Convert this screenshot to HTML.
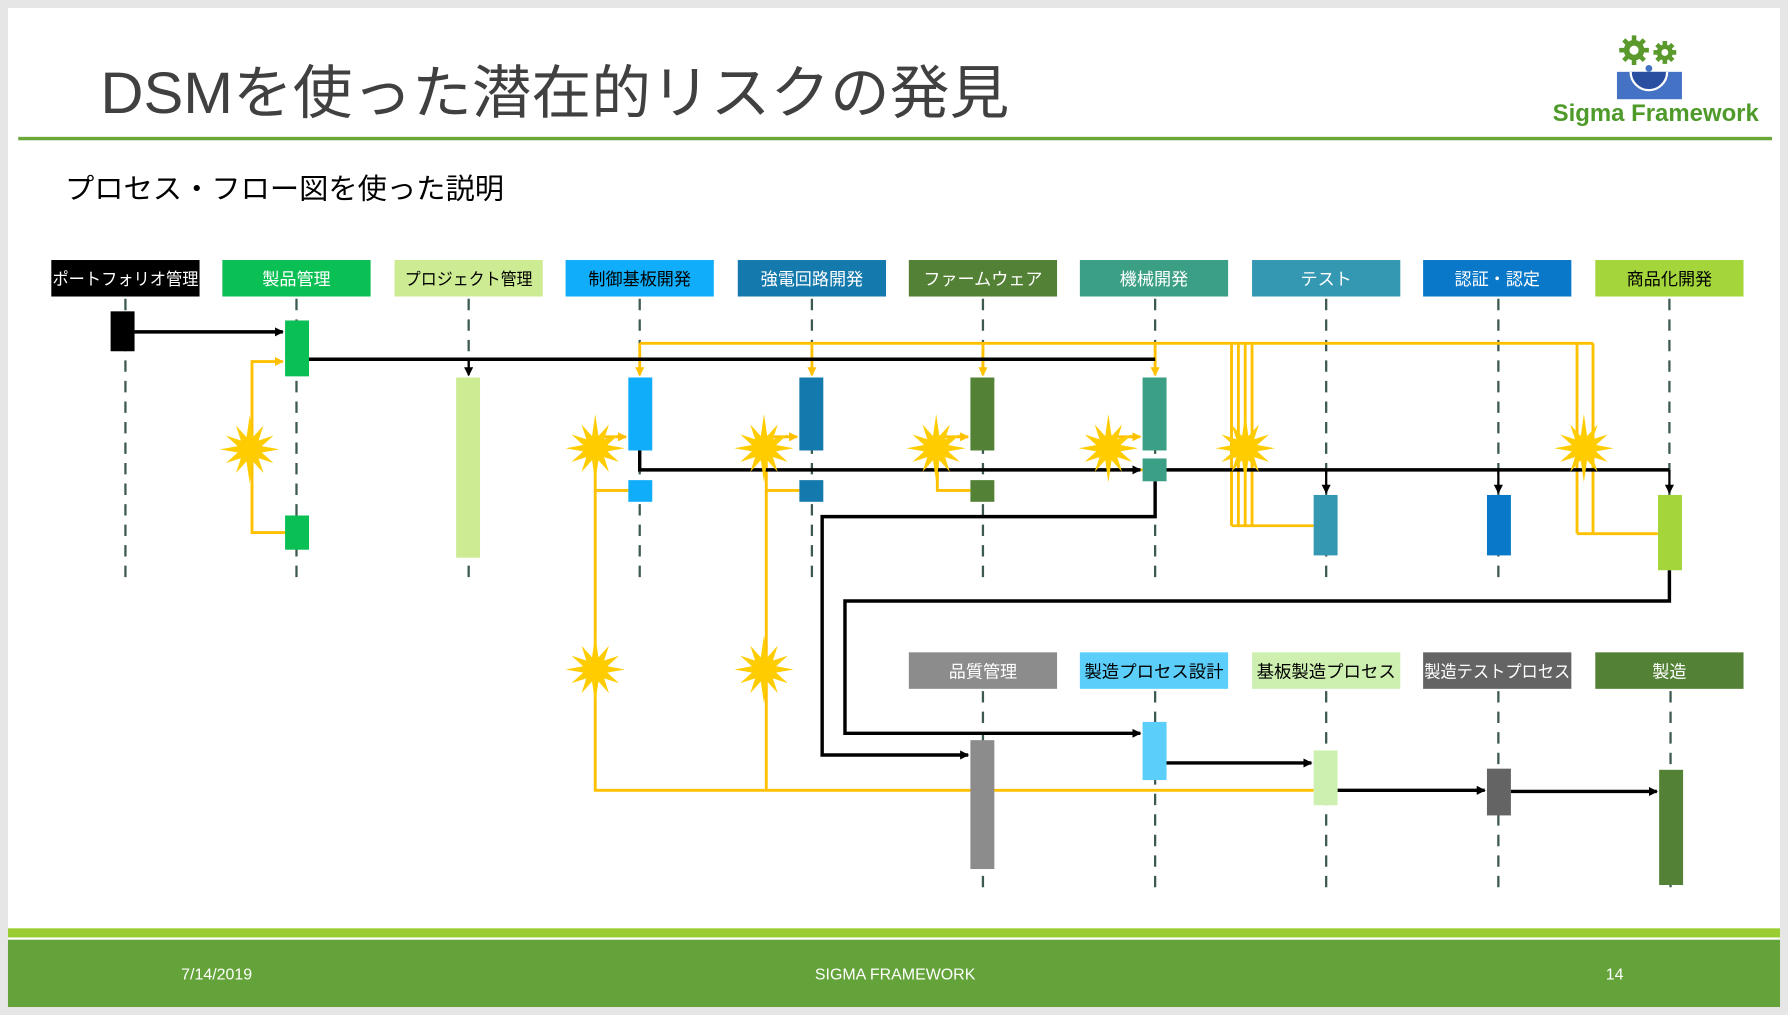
<!DOCTYPE html>
<html><head><meta charset="utf-8"><style>
html,body{margin:0;padding:0;background:#e6e6e6;overflow:hidden}
svg{display:block}
text{font-family:"Liberation Sans","Noto Sans CJK JP",sans-serif}
</style></head><body>
<svg width="1788" height="1015" viewBox="0 0 1568 890" preserveAspectRatio="none" xmlns="http://www.w3.org/2000/svg">
<defs>
<marker id="ab" markerWidth="8" markerHeight="8" refX="7" refY="4" orient="auto" markerUnits="userSpaceOnUse"><path d="M0,0 L8,4 L0,8 z" fill="#000"/></marker>
<marker id="ay" markerWidth="8" markerHeight="8" refX="7" refY="4" orient="auto" markerUnits="userSpaceOnUse"><path d="M0,0 L8,4 L0,8 z" fill="#ffc000"/></marker>
<polygon id="star" fill="#ffcc00" points="0,-30 2.8,-10.6 12,-20.8 7.8,-7.8 20.8,-12 10.6,-2.8 26,0 10.6,2.8 20.8,12 7.8,7.8 12,20.8 2.8,10.6 0,30 -2.8,10.6 -12,20.8 -7.8,7.8 -20.8,12 -10.6,2.8 -26,0 -10.6,-2.8 -20.8,-12 -7.8,-7.8 -12,-20.8 -2.8,-10.6"/>
</defs>
<rect x="0" y="0" width="1568" height="890" fill="#e6e6e6"/>
<rect x="7" y="7" width="1554" height="876" fill="#fff"/>
<!-- title -->
<text x="88" y="99" font-size="51" fill="#404040" textLength="797" lengthAdjust="spacingAndGlyphs">DSMを使った潜在的リスクの発見</text>
<rect x="16" y="120" width="1538" height="3" fill="#6aa83c"/>
<!-- logo -->
<g fill="#5a9a2c">
<circle cx="1433" cy="44" r="9"/><circle cx="1460" cy="46" r="7"/>
</g>
<g stroke="#5a9a2c" stroke-width="4">
<path d="M1433,31v26M1420,44h26M1424,35l18,18M1442,35l-18,18"/>
<path d="M1460,36v20M1450,46h20M1453,39l14,14M1467,39l-14,14"/>
</g>
<circle cx="1433" cy="44" r="4" fill="#fff"/><circle cx="1460" cy="46" r="3" fill="#fff"/>
<rect x="1418" y="63" width="57" height="24" fill="#4472c4"/>
<path d="M1430,63 a16,16 0 0 0 32,0" fill="#2a4fa0" stroke="#fff" stroke-width="2"/>
<circle cx="1446" cy="60" r="3" fill="#4472c4"/>
<text x="1452" y="106" font-size="21" font-weight="bold" fill="#4e9a2a" text-anchor="middle">Sigma Framework</text>
<!-- subtitle -->
<text x="57" y="174" font-size="25" fill="#000" textLength="385" lengthAdjust="spacingAndGlyphs">プロセス・フロー図を使った説明</text>
<!-- lifelines -->
<g stroke="#3d5a50" stroke-width="2" stroke-dasharray="10,8">
<path d="M110,262V512M260,262V512M411,262V512M561,262V512M712,262V512M862,262V512M1013,262V512M1163,262V512M1314,262V512M1464,262V512"/>
<path d="M862,606V782M1013,606V782M1163,606V782M1314,606V782M1465,606V782"/>
</g>
<!-- headers -->
<g font-size="15" text-anchor="middle">
<rect x="45" y="228" width="130" height="32" fill="#000"/><text x="110" y="250" fill="#fff" textLength="128" lengthAdjust="spacingAndGlyphs">ポートフォリオ管理</text>
<rect x="195" y="228" width="130" height="32" fill="#0abf53"/><text x="260" y="250" fill="#fff">製品管理</text>
<rect x="346" y="228" width="130" height="32" fill="#cdeb93"/><text x="411" y="250" fill="#000" textLength="112" lengthAdjust="spacingAndGlyphs">プロジェクト管理</text>
<rect x="496" y="228" width="130" height="32" fill="#10aefa"/><text x="561" y="250" fill="#000">制御基板開発</text>
<rect x="647" y="228" width="130" height="32" fill="#1479ad"/><text x="712" y="250" fill="#fff">強電回路開発</text>
<rect x="797" y="228" width="130" height="32" fill="#538135"/><text x="862" y="250" fill="#fff">ファームウェア</text>
<rect x="947" y="228" width="130" height="32" fill="#3b9f85"/><text x="1012" y="250" fill="#fff">機械開発</text>
<rect x="1098" y="228" width="130" height="32" fill="#3598b2"/><text x="1163" y="250" fill="#fff">テスト</text>
<rect x="1248" y="228" width="130" height="32" fill="#0a78c8"/><text x="1313" y="250" fill="#fff">認証・認定</text>
<rect x="1399" y="228" width="130" height="32" fill="#a4d63c"/><text x="1464" y="250" fill="#000">商品化開発</text>
<rect x="797" y="572" width="130" height="32" fill="#8c8c8c"/><text x="862" y="594" fill="#fff">品質管理</text>
<rect x="947" y="572" width="130" height="32" fill="#5bcefa"/><text x="1012" y="594" fill="#000" textLength="122" lengthAdjust="spacingAndGlyphs">製造プロセス設計</text>
<rect x="1098" y="572" width="130" height="32" fill="#cdf0b0"/><text x="1163" y="594" fill="#000" textLength="122" lengthAdjust="spacingAndGlyphs">基板製造プロセス</text>
<rect x="1248" y="572" width="130" height="32" fill="#646464"/><text x="1313" y="594" fill="#fff" textLength="128" lengthAdjust="spacingAndGlyphs">製造テストプロセス</text>
<rect x="1399" y="572" width="130" height="32" fill="#538135"/><text x="1464" y="594" fill="#fff">製造</text>
</g>
<!-- yellow lines -->
<g stroke="#ffc000" stroke-width="2.5" fill="none">
<path d="M561,301H1397"/>
<path d="M561,301V329" marker-end="url(#ay)"/>
<path d="M712,301V329" marker-end="url(#ay)"/>
<path d="M862,301V329" marker-end="url(#ay)"/>
<path d="M1013,301V329" marker-end="url(#ay)"/>
<path d="M1080,301V461M1086,301V461M1092,301V461M1098,301V461M1080,461H1152"/>
<path d="M1383,301V468M1397,301V468M1383,468H1454"/>
<path d="M250,467H221V317H248" marker-end="url(#ay)"/>
<path d="M551,430H522V383H549" marker-end="url(#ay)"/>
<path d="M522,430V693H1152"/>
<path d="M701,430H672V383H699" marker-end="url(#ay)"/>
<path d="M672,430V693"/>
<path d="M851,430H822V383H849" marker-end="url(#ay)"/>
<path d="M1002,412H972V383H1000" marker-end="url(#ay)"/>
</g>
<!-- black lines -->
<g stroke="#000" stroke-width="3" fill="none">
<path d="M118,291H248" marker-end="url(#ab)"/>
<path d="M271,315H1013"/>
<path d="M411,315V329" stroke-width="2" marker-end="url(#ab)"/>
<path d="M561,395V412H1000" marker-end="url(#ab)"/>
<path d="M1023,412H1464"/>
<path d="M1163,412V432" stroke-width="2" marker-end="url(#ab)"/>
<path d="M1314,412V432" stroke-width="2" marker-end="url(#ab)"/>
<path d="M1464,412V432" stroke-width="2" marker-end="url(#ab)"/>
<path d="M1013,422V453H721V662H849" marker-end="url(#ab)"/>
<path d="M1464,500V527H741V643H1000" marker-end="url(#ab)"/>
<path d="M1023,669H1150" marker-end="url(#ab)"/>
<path d="M1173,693H1302" marker-end="url(#ab)"/>
<path d="M1325,694H1453" marker-end="url(#ab)"/>
</g>
<!-- bars -->
<rect x="97" y="273" width="21" height="35" fill="#000"/>
<rect x="250" y="281" width="21" height="49" fill="#0abf53"/>
<rect x="250" y="452" width="21" height="30" fill="#0abf53"/>
<rect x="400" y="331" width="21" height="158" fill="#cdeb93"/>
<rect x="551" y="331" width="21" height="64" fill="#10aefa"/><rect x="551" y="421" width="21" height="19" fill="#10aefa"/>
<rect x="701" y="331" width="21" height="64" fill="#1479ad"/><rect x="701" y="421" width="21" height="19" fill="#1479ad"/>
<rect x="851" y="331" width="21" height="64" fill="#538135"/><rect x="851" y="421" width="21" height="19" fill="#538135"/>
<rect x="1002" y="331" width="21" height="64" fill="#3b9f85"/><rect x="1002" y="402" width="21" height="20" fill="#3b9f85"/>
<rect x="1152" y="434" width="21" height="53" fill="#3598b2"/>
<rect x="1304" y="434" width="21" height="53" fill="#0a78c8"/>
<rect x="1454" y="434" width="21" height="66" fill="#a4d63c"/>
<rect x="851" y="649" width="21" height="113" fill="#8c8c8c"/>
<rect x="1002" y="633" width="21" height="51" fill="#5bcefa"/>
<rect x="1152" y="658" width="21" height="48" fill="#cdf0b0"/>
<rect x="1304" y="674" width="21" height="41" fill="#646464"/>
<rect x="1455" y="675" width="21" height="101" fill="#538135"/>
<!-- stars -->
<use href="#star" x="219" y="394"/>
<use href="#star" x="522" y="393"/>
<use href="#star" x="670" y="393"/>
<use href="#star" x="821" y="393"/>
<use href="#star" x="972" y="393"/>
<use href="#star" x="1092" y="393"/>
<use href="#star" x="1389" y="393"/>
<use href="#star" x="522" y="587"/>
<use href="#star" x="670" y="587"/>
<!-- footer -->
<rect x="7" y="814" width="1554" height="8" fill="#9acd32"/>
<rect x="7" y="824" width="1554" height="59" fill="#63a33a"/>
<g font-size="14" fill="#fff" text-anchor="middle">
<text x="190" y="859">7/14/2019</text>
<text x="785" y="859">SIGMA FRAMEWORK</text>
<text x="1416" y="859">14</text>
</g>
</svg>
</body></html>
